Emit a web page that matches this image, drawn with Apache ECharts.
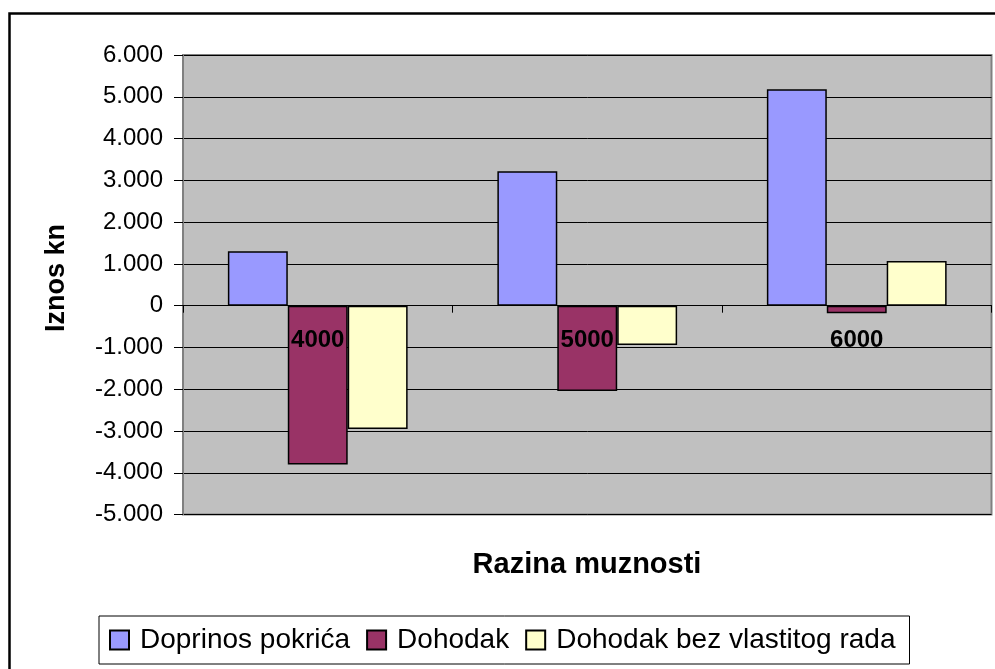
<!DOCTYPE html>
<html>
<head>
<meta charset="utf-8">
<script src="https://cdn.jsdelivr.net/npm/echarts@6/dist/echarts.min.js"></script>
<style>
  html, body { margin: 0; padding: 0; background: #fff; }
  #chart { width: 995px; height: 669px; }
</style>
</head>
<body>
<div id="chart"></div>
<script>
// podaci
var razine = ['4000', '5000', '6000'];
var doprinosPokrica = [1300, 3220, 5180];
var dohodak = [-3800, -2040, -180];
var dohodakBezRada = [-2950, -940, 1070];
var nazivi = ['Doprinos pokrića', 'Dohodak', 'Dohodak bez vlastitog rada'];

var font = 'Arial, "Liberation Sans", sans-serif';

function tisuce(v) {
    return String(v).replace(/\B(?=(\d{3})+(?!\d))/g, '.');
}

var chart = echarts.init(document.getElementById('chart'));

// os x leži na nuli: pomak od dna grafa do nule (11 podjela, 5 ispod nule)
var visinaGrafa = 669 - 55 - 154.4;
var pomakNula = visinaGrafa * 5 / 11;

var option = {
    animation: false,
    textStyle: { fontFamily: font },
    graphic: [
        {
            type: 'rect',
            shape: { x: 9.5, y: 13.5, width: 1000, height: 700 },
            style: { fill: 'none', stroke: '#000', lineWidth: 2.5 },
            silent: true
        },
        {
            type: 'text',
            x: 57, y: 278,
            rotation: Math.PI / 2,
            style: {
                text: 'Iznos kn',
                font: 'bold 27px ' + font,
                fill: '#000',
                textAlign: 'center',
                textVerticalAlign: 'middle'
            }
        },
        {
            type: 'text',
            x: 587, y: 565,
            style: {
                text: 'Razina muznosti',
                font: 'bold 29px ' + font,
                fill: '#000',
                textAlign: 'center',
                textVerticalAlign: 'middle'
            }
        }
    ],
    grid: {
        left: 183, top: 55, right: 3.5, bottom: 154.4,
        show: true,
        backgroundColor: '#C0C0C0',
        borderColor: '#808080',
        borderWidth: 2
    },
    legend: {
        data: nazivi,
        left: 99, top: 616,
        orient: 'horizontal',
        padding: [10, 14, 10, 10],
        itemGap: 16,
        itemWidth: 19,
        itemHeight: 19,
        icon: 'rect',
        borderColor: '#000',
        borderWidth: 1,
        backgroundColor: '#fff',
        textStyle: { fontSize: 28, color: '#000', fontFamily: font, padding: [0, 0, 0, 6] }
    },
    xAxis: {
        type: 'category',
        data: razine,
        z: 5,
        offset: -pomakNula,
        axisLine: { onZero: false, lineStyle: { color: '#000', width: 1 } },
        axisTick: { show: true, length: 7, lineStyle: { color: '#000' } },
        axisLabel: { fontSize: 24, fontWeight: 'bold', color: '#000', margin: 23, fontFamily: font },
        splitLine: { show: false }
    },
    yAxis: {
        type: 'value',
        min: -5000, max: 6000, interval: 1000,
        axisLine: { show: true, lineStyle: { color: '#808080', width: 1 } },
        axisTick: { show: true, length: 9, lineStyle: { color: '#000' } },
        axisLabel: { fontSize: 24, color: '#000', margin: 20, fontFamily: font, formatter: tisuce },
        splitLine: { show: true, lineStyle: { color: '#000', width: 1 } }
    },
    series: [
        {
            name: nazivi[0], type: 'bar', data: doprinosPokrica,
            barGap: '0%', barCategoryGap: '33.3%',
            itemStyle: { color: '#9999FF', borderColor: '#000', borderWidth: 1.5 }
        },
        {
            name: nazivi[1], type: 'bar', data: dohodak,
            itemStyle: { color: '#993366', borderColor: '#000', borderWidth: 1.5 }
        },
        {
            name: nazivi[2], type: 'bar', data: dohodakBezRada,
            itemStyle: { color: '#FFFFCC', borderColor: '#000', borderWidth: 1.5 }
        }
    ]
};

chart.setOption(option);
</script>
</body>
</html>
